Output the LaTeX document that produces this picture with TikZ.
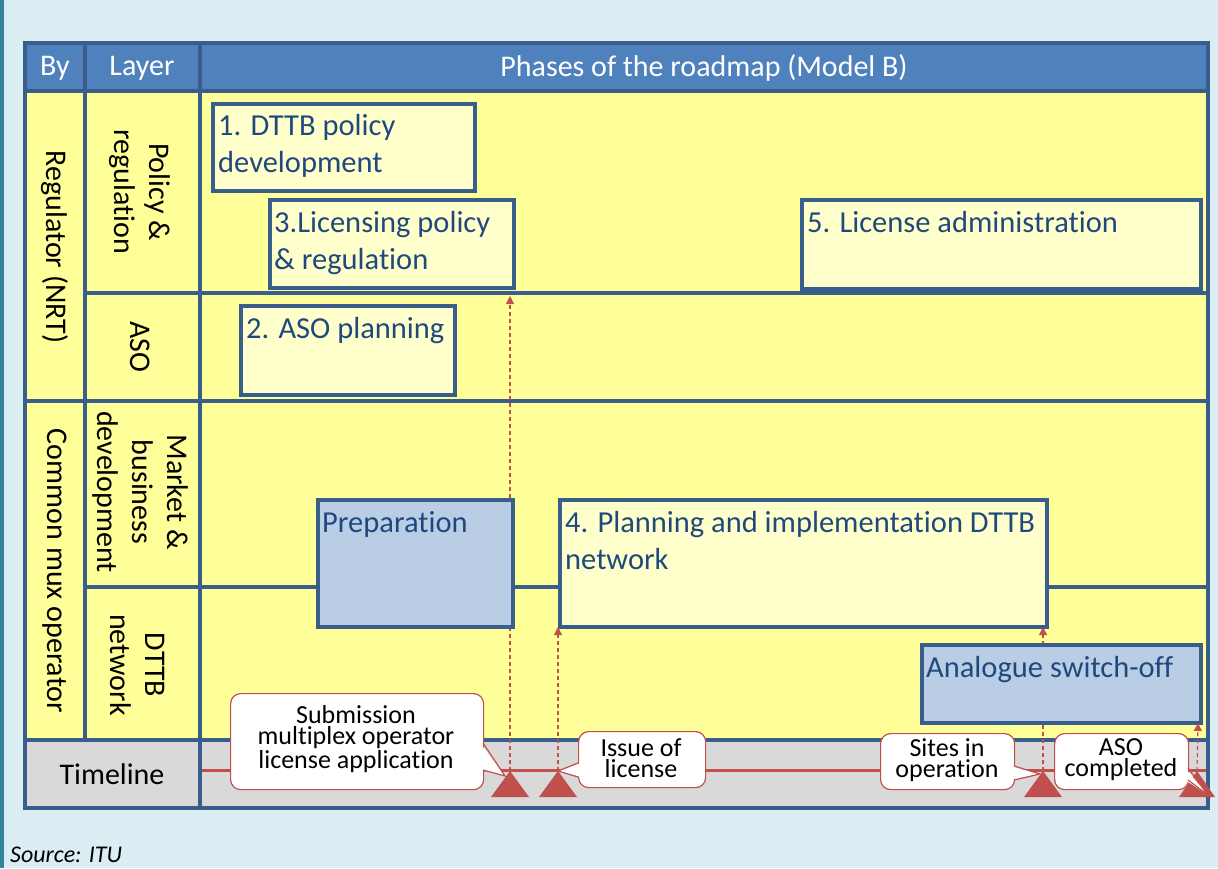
\documentclass[tikz,border=0pt]{standalone}
\usepackage{fontspec}
\setmainfont{Carlito}[Ligatures=NoCommon]
\usetikzlibrary{arrows.meta}
\definecolor{bgc}{HTML}{DBEEF4}
\definecolor{tealc}{HTML}{31849B}
\definecolor{hdrc}{HTML}{4F81BD}
\definecolor{gridc}{HTML}{3A5E8C}
\definecolor{rowc}{HTML}{FFFF99}
\definecolor{boxyc}{HTML}{FFFFCC}
\definecolor{boxbc}{HTML}{B9CDE5}
\definecolor{txtc}{HTML}{1F497D}
\definecolor{redc}{HTML}{C0504D}
\definecolor{tlc}{HTML}{D9D9D9}
\tikzset{
  gridline/.style={draw=gridc, line width=4pt},
  hdrtext/.style={text=white, font=\fontsize{30}{36}\selectfont, inner sep=0pt},
  lbl/.style={text=black, font=\fontsize{30}{35}\selectfont, align=center, rotate=-90, inner sep=0pt},
  ybox/.style={draw=gridc, line width=3.5pt, fill=boxyc, anchor=north west, inner sep=0pt},
  bbox/.style={draw=gridc, line width=3.5pt, fill=boxbc, anchor=north west, inner sep=0pt},
  ptext/.style={text=txtc, font=\fontsize{30.5}{37}\selectfont, align=left, anchor=base west, inner sep=0pt},
  callout/.style={draw=redc, line width=1.2pt, fill=white, rounded corners=10pt, anchor=north west, inner sep=0pt},
  ctext/.style={text=black, font=\fontsize{26}{21}\selectfont, align=center, inner sep=0pt},
  wedge/.style={draw=redc, line width=1.2pt},
  marker/.style={fill=redc},
  linkarrow/.style={draw=redc, line width=1.1pt, dash pattern=on 4pt off 3pt, -{Triangle[length=8pt,width=8pt]}}
}
\begin{document}
\begin{tikzpicture}[x=1pt,y=-1pt]
\useasboundingbox (0,0) rectangle (1218,868);
\fill[bgc] (0,0) rectangle (1218,868);
\fill[tealc] (0,0) rectangle (3.5,868);
% cells
\fill[hdrc] (25,43) rectangle (1208,91);
\fill[rowc] (25,91) rectangle (1208,740);
\fill[tlc] (25,740) rectangle (1208,808);
% timeline line
\draw[redc, line width=3pt] (202,770) -- (1206,770);
% grid
\draw[gridline] (25,91) -- (1208,91);
\draw[gridline] (85,293) -- (1208,293);
\draw[gridline] (25,401) -- (1208,401);
\draw[gridline] (85,587) -- (1208,587);
\draw[gridline] (25,740) -- (1208,740);
\draw[gridline] (85,43) -- (85,740);
\draw[gridline] (200,43) -- (200,808);
\draw[gridline] (25,43) rectangle (1208,808);
% header texts
\node[hdrtext] (hby) at (55,68) {By};
\node[hdrtext] (hlayer) at (142,68) {Layer};
\node[hdrtext] (hphase) at (704,68) {Phases of the roadmap (Model B)};
% row labels
\node[lbl] (lreg) at (55,247) {Regulator (NRT)};
\node[lbl] (lcmo) at (55,571) {Common mux operator};
\node[lbl] (lpol) at (140,192) {Policy \&\\regulation};
\node[lbl] (laso) at (140,347) {ASO};
\node[lbl] (lmkt) at (140,492) {Market \&\\business\\development};
\node[lbl] (ldttb) at (138,665) {DTTB\\network};
\node[text=black, font=\fontsize{30}{36}\selectfont, inner sep=0pt] (ltl) at (112,774) {Timeline};
% markers (triangle apexes)
\coordinate (m1) at (510,771);
\coordinate (m2) at (558,771);
\coordinate (m3) at (1043,771);
\coordinate (m4) at (1197,771);
\coordinate (lic) at (510,296);
% boxes
\node[ybox, minimum width=262pt, minimum height=87pt] (b1) at (211,102) {};
\node[ybox, minimum width=244pt, minimum height=88pt] (b3) at (268,198) {};
\node[ybox, minimum width=399pt, minimum height=89pt] (b5) at (800,198) {};
\node[ybox, minimum width=214pt, minimum height=89pt] (b2) at (239,304) {};
% dashed connectors
\draw[linkarrow] (m1) -- (lic);
\draw[linkarrow] (m3) -- (1043,627);
\node[bbox, minimum width=195pt, minimum height=127pt] (prep) at (316,498) {};
\node[ybox, minimum width=487pt, minimum height=127pt] (b4) at (558,498) {};
\node[bbox, minimum width=279pt, minimum height=78pt] (asw) at (920,643) {};
\draw[linkarrow] (m2) -- (558,627);
\draw[linkarrow] (m4) -- (1198,723);
\draw[linkarrow, -] (m3) -- (1043,723);
% box texts (base = baseline of last line)
\node[ptext] (b1t) at (218,172) {1. DTTB policy\\development};
\node[ptext] (b3t) at (274,269) {3.Licensing policy\\\& regulation};
\node[ptext] (b5t) at (807,232) {5. License administration};
\node[ptext] (b2t) at (246,338) {2. ASO planning};
\node[ptext] (prept) at (322,532) {Preparation};
\node[ptext] (b4t) at (565,569) {4. Planning and implementation DTTB\\network};
\node[ptext] (aswt) at (926,677) {Analogue switch-off};
% triangles
\fill[marker] (491,797) -- (m1) -- (529,797) -- cycle;
\fill[marker] (539,797) -- (m2) -- (577,797) -- cycle;
\fill[marker] (1024,797) -- (m3) -- (1062,797) -- cycle;
\fill[marker] (1179,797) -- (m4) -- (1215,797) -- cycle;
% callouts
\node[callout, minimum width=253pt, minimum height=96pt] (c1) at (230,693) {};
\fill[white] (480,743) -- (505,776) -- (480,770) -- cycle;
\draw[wedge] (483,743) -- (505,776) -- (483,770);
\node[callout, minimum width=127pt, minimum height=56pt] (c2) at (578,731) {};
\fill[white] (581,763) -- (558,771) -- (581,777) -- cycle;
\draw[wedge] (578,763) -- (558,771) -- (578,777);
\node[callout, minimum width=134pt, minimum height=56pt] (c3) at (880,733) {};
\fill[white] (1011,766) -- (1040,774) -- (1011,780) -- cycle;
\draw[wedge] (1014,766) -- (1040,774) -- (1014,780);
\node[callout, minimum width=134pt, minimum height=56pt] (c4) at (1054,733) {};
\fill[white] (1185,768) -- (1208,795) -- (1185,780) -- cycle;
\draw[wedge] (1188,768) -- (1208,795) -- (1188,780);
\node[ctext] (c1t) at (356,739) {Submission\\multiplex operator\\license application};
\node[ctext] (c2t) at (641,758) {Issue of\\license};
\node[ctext] (c3t) at (947,760) {Sites in\\operation};
\node[ctext] (c4t) at (1121,760) {ASO\\completed};
% source
\node[font=\itshape\fontsize{24}{28}\selectfont, anchor=base west, inner sep=0pt] (src) at (10,862) {Source: ITU};
\end{tikzpicture}
\end{document}
